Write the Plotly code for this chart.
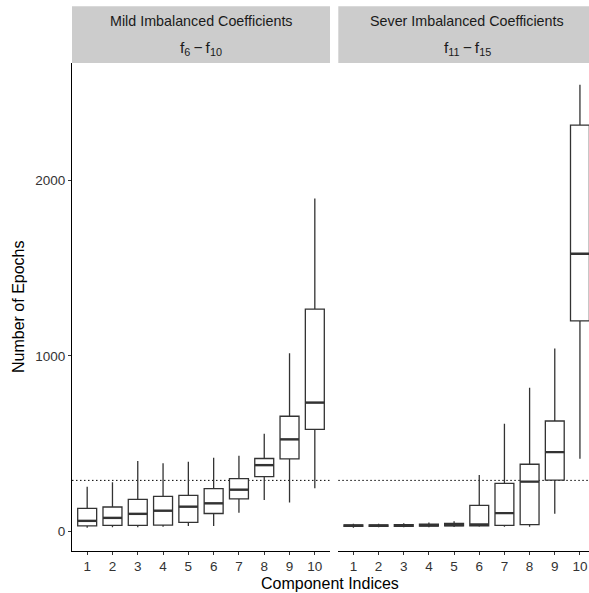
import plotly.graph_objects as go

# ---------------- data ----------------
components = [1, 2, 3, 4, 5, 6, 7, 8, 9, 10]

mild_low = [19, 23, 22, 25, 30, 30, 105, 178, 164, 245]
mild_q1 = [30, 33, 33, 35, 50, 101, 185, 312, 413, 581]
mild_med = [59, 76, 99, 117, 140, 159, 237, 377, 524, 734]
mild_q3 = [130, 138, 182, 199, 205, 243, 300, 415, 656, 1267]
mild_high = [254, 279, 401, 388, 396, 419, 430, 556, 1015, 1898]

sev_low = [20, 22, 22, 22, 24, 25, 25, 25, 99, 413]
sev_q1 = [27, 28, 28, 29, 30, 30, 33, 38, 292, 1200]
sev_med = [31, 31, 33, 34, 35, 38, 103, 283, 451, 1583]
sev_q3 = [36, 36, 38, 40, 44, 147, 273, 382, 629, 2318]
sev_high = [42, 42, 45, 50, 57, 321, 613, 818, 1043, 2548]

threshold = 290

strip_titles = ["Mild Imbalanced Coefficients", "Sever Imbalanced Coefficients"]
strip_subs = ["f<sub>6</sub>\u2009\u2212\u2009f<sub>10</sub>", "f<sub>11</sub>\u2009\u2212\u2009f<sub>15</sub>"]
y_ticks = [0, 1000, 2000]
x_title = "Component Indices"
y_title = "Number of Epochs"

# ---------------- figure ----------------
FONT = "Liberation Sans, Arial, sans-serif"
LINE = "#333333"
BOX_W = 0.75

fig = go.Figure()

panels = [
    ("x", "y", mild_low, mild_q1, mild_med, mild_q3, mild_high),
    ("x2", "y2", sev_low, sev_q1, sev_med, sev_q3, sev_high),
]

for xa, ya, lo, q1, med, q3, hi in panels:
    fig.add_trace(go.Box(
        x=components, q1=q1, median=med, q3=q3, lowerfence=lo, upperfence=hi,
        width=BOX_W, whiskerwidth=0, fillcolor="white",
        line=dict(color=LINE, width=1.3), boxpoints=False,
        xaxis=xa, yaxis=ya, showlegend=False, hoverinfo="skip",
    ))
    mx, my = [], []
    for c, m in zip(components, med):
        mx += [c - BOX_W / 2, c + BOX_W / 2, None]
        my += [m, m, None]
    fig.add_trace(go.Scatter(
        x=mx, y=my, mode="lines", line=dict(color=LINE, width=2.4),
        xaxis=xa, yaxis=ya, showlegend=False, hoverinfo="skip", cliponaxis=True,
    ))

# layout in reference pixel coordinates (page body margin removed below)
W, H = 589, 593
L_ref, T_ref, Bot_ref, R_ref = 72, 63.3, 550.7, 589
L, T = L_ref, T_ref
B = H - Bot_ref
R = W - R_ref
pw = R_ref - L_ref
ph = Bot_ref - T_ref

left_dom = [0, (330 - L_ref) / pw]
right_dom = [(338.3 - L_ref) / pw, 1]

y_range = [-113, 2672]

axis_common = dict(
    showgrid=False, zeroline=False, showline=True, linecolor="black", linewidth=1,
    ticks="outside", ticklen=3, tickcolor=LINE, tickwidth=1, automargin=False,
    tickfont=dict(family=FONT, size=13.5, color="#333333"), ticklabeloverflow="allow",
    tickvals=components, ticktext=[str(c) for c in components],
)

fig.update_layout(
    width=W, height=H,
    margin=dict(l=L, r=R, t=T, b=B, autoexpand=False),
    paper_bgcolor="white", plot_bgcolor="white",
    font=dict(family=FONT, color="black"),
    xaxis=dict(domain=left_dom, range=[0.4, 10.6], anchor="y", **axis_common),
    xaxis2=dict(domain=right_dom, range=[0.4, 10.36], anchor="y2", **axis_common),
    yaxis=dict(
        domain=[0, 1], range=y_range, anchor="x", automargin=False,
        showgrid=False, zeroline=False, showline=True, linecolor="black", linewidth=1,
        ticks="outside", ticklen=3, tickcolor=LINE, tickwidth=1,
        tickvals=y_ticks, ticktext=[str(v) for v in y_ticks],
        tickfont=dict(family=FONT, size=13.5, color="#333333"),
    ),
    yaxis2=dict(
        domain=[0, 1], range=y_range, anchor="x2", matches="y", automargin=False,
        showgrid=False, zeroline=False, showline=False, showticklabels=False, ticks="",
    ),
)

# dotted threshold line in each panel
for xr, yr in [("x domain", "y"), ("x2 domain", "y2")]:
    fig.add_shape(type="line", xref=xr, yref=yr, x0=0, x1=1, y0=threshold, y1=threshold,
                  line=dict(color="black", width=1, dash="1.5px,2.5px"), layer="below")

# facet strips
strip_top = 1 + (T_ref - 6.7) / ph
centers = [(left_dom[0] + left_dom[1]) / 2, (right_dom[0] + (596 - L_ref) / pw) / 2]
for dom, xc, title, sub in zip([left_dom, right_dom], centers, strip_titles, strip_subs):
    fig.add_shape(type="rect", xref="paper", yref="paper",
                  x0=dom[0], x1=dom[1], y0=1.0, y1=strip_top,
                  fillcolor="#CCCCCC", line=dict(width=0), layer="below")
    fig.add_annotation(xref="paper", yref="paper", x=xc, y=1 + (T_ref - 21.5) / ph,
                       text=title, showarrow=False, xanchor="center", yanchor="middle",
                       font=dict(family=FONT, size=14.3, color="#1A1A1A"))
    fig.add_annotation(xref="paper", yref="paper", x=xc, y=1 + (T_ref - 49) / ph,
                       text=sub, showarrow=False, xanchor="center", yanchor="middle",
                       font=dict(family=FONT, size=15.5, color="#1A1A1A"))

# axis titles
fig.add_annotation(xref="paper", yref="paper", x=(330 - L_ref) / pw, y=-(583 - Bot_ref) / ph,
                   text=x_title, showarrow=False, xanchor="center", yanchor="middle",
                   font=dict(family=FONT, size=16, color="black"))
fig.add_annotation(xref="paper", yref="paper", x=(18 - L_ref) / pw, y=0.5,
                   text=y_title, showarrow=False, xanchor="center", yanchor="middle",
                   textangle=-90, font=dict(family=FONT, size=16, color="black"))

fig.write_html("out.html", config={"displayModeBar": False},
               post_script="document.body.style.margin='0px';")
